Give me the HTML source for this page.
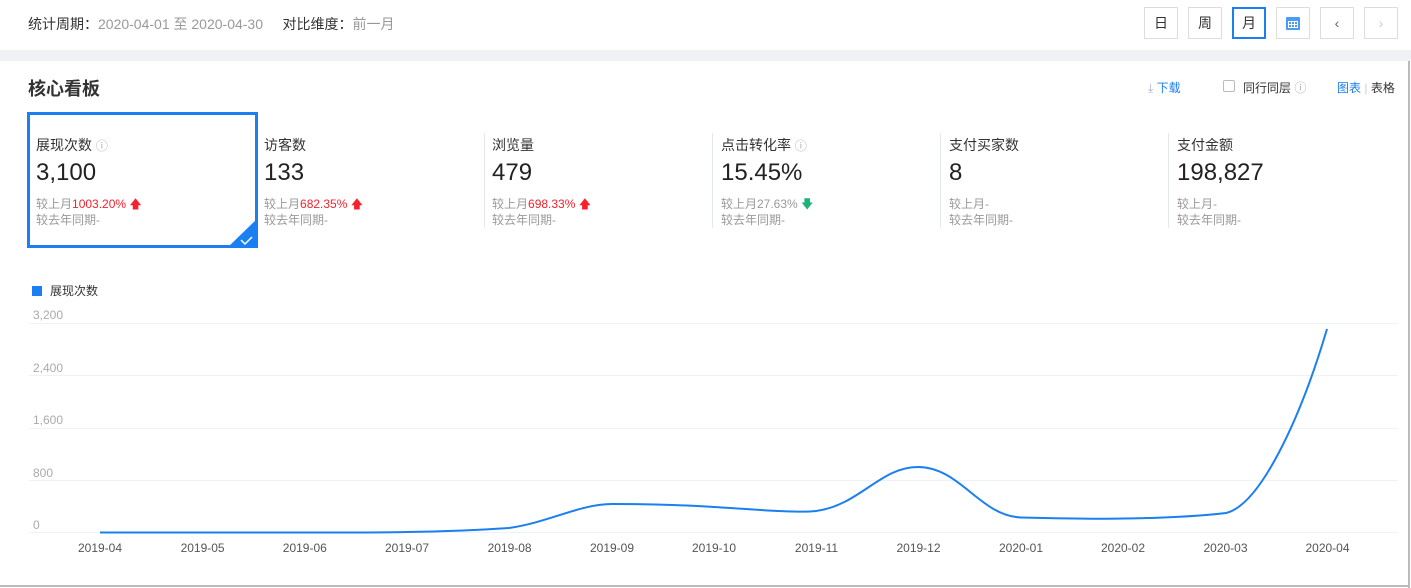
<!DOCTYPE html>
<html><head><meta charset="utf-8"><style>
*{margin:0;padding:0;box-sizing:border-box}
body{width:1411px;height:588px;background:#fff;font-family:"Liberation Sans","Noto Sans CJK SC",sans-serif;position:relative;overflow:hidden;color:#333}
.a{position:absolute;white-space:nowrap}
.btn{position:absolute;top:7px;width:34px;height:32px;border:1px solid #ddd;font-size:14px;text-align:center;line-height:30px;color:#333}
.lbl{font-size:14px;color:#333}
.big{font-size:24px;color:#222}
.sm{font-size:12px;color:#999;line-height:16px}
.sep{position:absolute;top:133px;height:95px;width:1px;background:#e4e8ee}
.red{color:#f5222d}
</style></head><body>
<div class="a" style="left:28px;top:14px;font-size:14px;color:#333">统计周期：<span style="color:#999">2020-04-01 至 2020-04-30</span>&nbsp;&nbsp;&nbsp;&nbsp;&nbsp;对比维度：<span style="color:#999">前一月</span></div>
<div class="btn" style="left:1144px">日</div>
<div class="btn" style="left:1188px">周</div>
<div class="btn" style="left:1232px;border:2px solid #1a7ff0;line-height:28px">月</div>
<div class="btn" style="left:1276px"><svg width="16" height="16" style="margin-top:7px"><rect x="1" y="2" width="14" height="13" rx="1" fill="#4a9cf5"/><rect x="3" y="6" width="10" height="7" fill="#fff"/><g fill="#4a9cf5"><rect x="4" y="7" width="2" height="2"/><rect x="7" y="7" width="2" height="2"/><rect x="10" y="7" width="2" height="2"/><rect x="4" y="10" width="2" height="2"/><rect x="7" y="10" width="2" height="2"/><rect x="10" y="10" width="2" height="2"/></g></svg></div>
<div class="btn" style="left:1320px;color:#666">&lsaquo;</div>
<div class="btn" style="left:1364px;color:#ccc">&rsaquo;</div>
<div class="a" style="left:0;top:50px;width:1411px;height:11px;background:#f0f1f5"></div>
<div class="a" style="left:1408px;top:61px;width:2px;height:527px;background:#bbb"></div>
<div class="a" style="left:0;top:585px;width:1410px;height:2px;background:#bbb"></div>
<div class="a" style="left:28px;top:75px;font-size:18px;font-weight:bold;color:#333">核心看板</div>
<div class="a" style="left:1148px;top:79px;font-size:12px;color:#1a7ff0"><span style="color:#aac">⤓</span> 下载</div>
<div class="a" style="left:1223px;top:80px;width:12px;height:12px;border:1px solid #bbb;border-radius:2px"></div>
<div class="a" style="left:1243px;top:79px;font-size:12px;color:#333">同行同层 <span style="color:#aaa">ⓘ</span></div>
<div class="a" style="left:1337px;top:79px;font-size:12px;color:#1a7ff0">图表 <span style="color:#ccc">|</span> <span style="color:#333">表格</span></div>

<div class="a" style="left:27px;top:112px;width:231px;height:136px;border:3px solid #1a7ff0"></div>
<svg class="a" style="left:227px;top:218px" width="31" height="30"><polygon points="31,0 31,30 0,30" fill="#1a7ff0"/><polyline points="14,22 18,26 25,19" stroke="#fff" stroke-width="1.5" fill="none"/></svg>

<div class="a lbl" style="left:36px;top:135px">展现次数 <span style="color:#aab;font-size:12px">ⓘ</span></div>
<div class="a big" style="left:36px;top:159px">3,100</div>
<div class="a sm" style="left:36px;top:196px">较上月<span class="red">1003.20% 🡅</span><br>较去年同期-</div>

<div class="a lbl" style="left:264px;top:135px">访客数</div>
<div class="a big" style="left:264px;top:159px">133</div>
<div class="a sm" style="left:264px;top:196px">较上月<span class="red">682.35% 🡅</span><br>较去年同期-</div>
<div class="sep" style="left:484px"></div>
<div class="a lbl" style="left:492px;top:135px">浏览量</div>
<div class="a big" style="left:492px;top:159px">479</div>
<div class="a sm" style="left:492px;top:196px">较上月<span class="red">698.33% 🡅</span><br>较去年同期-</div>
<div class="sep" style="left:712px"></div>
<div class="a lbl" style="left:721px;top:135px">点击转化率 <span style="color:#aab;font-size:12px">ⓘ</span></div>
<div class="a big" style="left:721px;top:159px">15.45%</div>
<div class="a sm" style="left:721px;top:196px">较上月27.63% <span style="color:#1bb37a">🡇</span><br>较去年同期-</div>
<div class="sep" style="left:940px"></div>
<div class="a lbl" style="left:949px;top:135px">支付买家数</div>
<div class="a big" style="left:949px;top:159px">8</div>
<div class="a sm" style="left:949px;top:196px">较上月-<br>较去年同期-</div>
<div class="sep" style="left:1168px"></div>
<div class="a lbl" style="left:1177px;top:135px">支付金额</div>
<div class="a big" style="left:1177px;top:159px">198,827</div>
<div class="a sm" style="left:1177px;top:196px">较上月-<br>较去年同期-</div>

<svg class="a" style="left:0;top:0" width="1411" height="588" font-family="Liberation Sans,Noto Sans CJK SC,sans-serif">
<rect x="32" y="286" width="10" height="10" fill="#1a7ff0"/>
<text x="50" y="295" font-size="12" fill="#333">展现次数</text>
<g stroke="#eef1f7" stroke-width="1">
<line x1="29" y1="323.5" x2="1398" y2="323.5"/><line x1="29" y1="375.5" x2="1398" y2="375.5"/><line x1="29" y1="428.5" x2="1398" y2="428.5"/><line x1="29" y1="480.5" x2="1398" y2="480.5"/><line x1="29" y1="532.5" x2="1398" y2="532.5"/></g>
<g font-size="12" fill="#aaa"><text x="33" y="319">3,200</text><text x="33" y="372">2,400</text><text x="33" y="424">1,600</text><text x="33" y="477">800</text><text x="33" y="529">0</text></g>
<g font-size="12" fill="#555" text-anchor="middle">
<text x="100" y="552">2019-04</text><text x="202.6" y="552">2019-05</text><text x="304.8" y="552">2019-06</text><text x="407" y="552">2019-07</text><text x="509.6" y="552">2019-08</text><text x="612" y="552">2019-09</text><text x="714" y="552">2019-10</text><text x="816.5" y="552">2019-11</text><text x="918.5" y="552">2019-12</text><text x="1021" y="552">2020-01</text><text x="1123" y="552">2020-02</text><text x="1225.5" y="552">2020-03</text><text x="1327.5" y="552">2020-04</text></g>
<path d="M100,532.5 L300,532.5 C350,532.5 390,532.5 407,532 C450,531.5 480,530 509,528 C550,522 580,504 612,504 C660,504 700,506 714,507 C760,510 800,513 816,511 C860,505 880,467 918,467 C960,467 980,516 1021,517.5 C1060,518.5 1100,519 1123,518.5 C1170,518 1200,516 1226,513 C1260,505 1300,420 1327,329" stroke="#1a7ff0" stroke-width="2" fill="none"/>
</svg>
</body></html>
